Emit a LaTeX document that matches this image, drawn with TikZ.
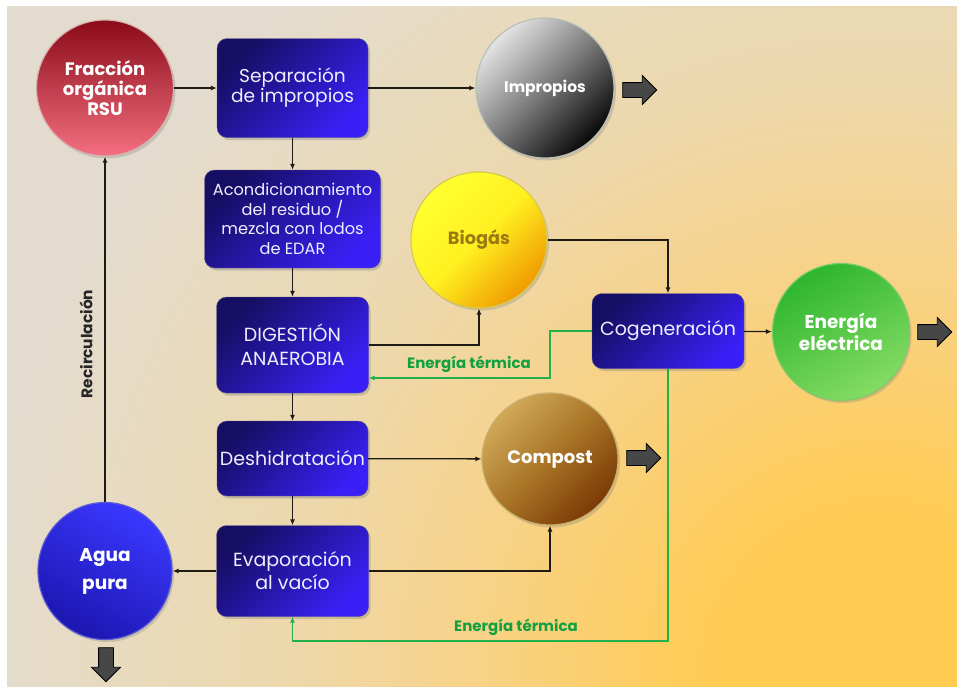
\documentclass[tikz,border=0pt]{standalone}
\usepackage{fontspec}
\setmainfont{Poppins}
\usetikzlibrary{shapes.geometric,shapes.arrows,arrows.meta,shadows}
\definecolor{bgbase}{HTML}{E3DCCE}
\definecolor{glowA}{HTML}{FFCB50}
\definecolor{glowB}{HTML}{F8D286}
\definecolor{glowC}{HTML}{EDD8AC}
\definecolor{glowD}{HTML}{E3DCCE}
\definecolor{boxD}{HTML}{160E62}
\definecolor{boxL}{HTML}{3A20F6}
\definecolor{boxTxt}{HTML}{EEEEFF}
\definecolor{conn}{HTML}{1E1A14}
\definecolor{grn}{HTML}{22B04A}
\definecolor{grnTxt}{HTML}{12A040}
\definecolor{fatA}{HTML}{474747}
\definecolor{fracD}{HTML}{8A0A18}
\definecolor{fracL}{HTML}{F47080}
\definecolor{fracR}{HTML}{D8B0B0}
\definecolor{impL}{HTML}{E4E4E4}
\definecolor{impM}{HTML}{7A7A7A}
\definecolor{impD}{HTML}{080808}
\definecolor{impR}{HTML}{B8C0B8}
\definecolor{bioA}{HTML}{FFFF30}
\definecolor{bioM}{HTML}{FFF020}
\definecolor{bioB}{HTML}{F09A00}
\definecolor{bioR}{HTML}{D8C850}
\definecolor{bioTxt}{HTML}{9C7A12}
\definecolor{eneA}{HTML}{2EB52E}
\definecolor{eneB}{HTML}{84DC64}
\definecolor{eneR}{HTML}{7CCB6A}
\definecolor{comA}{HTML}{D0A858}
\definecolor{comM}{HTML}{A87426}
\definecolor{comB}{HTML}{7A3A05}
\definecolor{comR}{HTML}{C8B070}
\definecolor{aguA}{HTML}{3A38FF}
\definecolor{aguB}{HTML}{1C16B0}
\definecolor{aguR}{HTML}{5A5AD8}
\pgfdeclareradialshading{bgglow}{\pgfpoint{0bp}{0bp}}{color(0bp)=(glowA); color(4.2bp)=(glowA); color(11.1bp)=(glowB); color(16.7bp)=(glowC); color(25bp)=(glowD); color(50bp)=(glowD)}
\begin{document}
\begin{tikzpicture}[x=1pt,y=-1pt,
  procbox/.style={rectangle, rounded corners=10pt, draw=boxD!70!white, line width=0.4pt,
    top color=boxD, bottom color=boxL, shading angle=45,
    text=boxTxt, align=center, inner sep=0pt,
    font=\fontsize{19}{20}\selectfont,
    drop shadow={opacity=0.35, shadow xshift=2pt, shadow yshift=-2.5pt}},
  blob/.style={ellipse, inner sep=0pt, align=center, text=white,
    font=\bfseries\fontsize{18}{20}\selectfont, line width=1.2pt,
    drop shadow={opacity=0.3, shadow xshift=2pt, shadow yshift=-2.5pt}},
  flow/.style={draw=conn, line width=1.3pt, -{Latex[length=6pt,width=5pt]}},
  heat/.style={draw=grn, line width=1.3pt, -{Latex[length=6pt,width=5pt]}},
  heatlbl/.style={text=grnTxt, font=\bfseries\fontsize{15}{17}\selectfont, inner sep=0pt},
  fat/.style={single arrow, draw=black, line width=0.8pt, fill=fatA, minimum width=28pt,
    minimum height=34pt, single arrow head extend=7pt, inner xsep=0pt, inner ysep=7pt},
]
% background
\useasboundingbox (0,0) rectangle (957,686);
\fill[white] (0,0) rectangle (957,686);
\fill[bgbase] (7,6) rectangle (957,686);
\begin{scope}
  \clip (7,6) rectangle (957,686);
  \shade[shading=bgglow] (880,680) circle (900pt);
\end{scope}

% process boxes
\node[procbox, minimum width=151pt, minimum height=99pt, font=\fontsize{18.6}{20}\selectfont] (sep) at (292.5,88) {Separación\\de impropios};
\node[procbox, minimum width=176pt, minimum height=98pt, font=\fontsize{16.2}{19.5}\selectfont] (acond) at (292.5,219) {Acondicionamiento\\del residuo /\\mezcla con lodos\\de EDAR};
\node[procbox, minimum width=152pt, minimum height=96pt, font=\fontsize{19}{24}\selectfont] (dig) at (292.5,345) {DIGESTIÓN\\ANAEROBIA};
\node[procbox, minimum width=151pt, minimum height=75pt] (desh) at (292.5,458.5) {Deshidratación};
\node[procbox, minimum width=152pt, minimum height=91pt, font=\fontsize{19}{23}\selectfont] (evap) at (292.5,571) {Evaporación\\al vacío};
\node[procbox, minimum width=152pt, minimum height=75pt] (cogen) at (668,331) {Cogeneración};

% circles
\node[blob, top color=fracD, bottom color=fracL, draw=fracR, minimum width=137pt, minimum height=136pt] (frac) at (105,88) {Fracción\\orgánica\\RSU};
\node[blob, top color=impL, bottom color=impD, middle color=impM, shading angle=45, draw=impR, minimum width=138pt, minimum height=140pt, font=\bfseries\fontsize{15.5}{18}\selectfont] (impr) at (545,88) {Impropios};
\node[blob, top color=bioA, bottom color=bioB, middle color=bioM, shading angle=45, draw=bioR, text=bioTxt, minimum width=136pt, minimum height=136pt, font=\bfseries\fontsize{17.7}{20}\selectfont] (biog) at (479,240) {Biogás};
\node[blob, top color=eneA, bottom color=eneB, shading angle=30, draw=eneR, minimum width=137pt, minimum height=137pt, font=\bfseries\fontsize{18.5}{22}\selectfont] (energ) at (841,332) {Energía\\eléctrica};
\node[blob, top color=comA, bottom color=comB, middle color=comM, shading angle=45, draw=comR, minimum width=136pt, minimum height=132pt] (comp) at (550,459) {Compost};
\node[blob, top color=aguA, bottom color=aguB, shading angle=-30, draw=aguR, minimum width=134pt, minimum height=137pt, font=\bfseries\fontsize{18.5}{28}\selectfont] (agua) at (105,571) {Agua\\pura};

% fat output arrows
\node[fat] (out1) at (636,90) {};
\node[fat] (out2) at (931,332) {};
\node[fat] (out3) at (640,458) {};
\node[fat, rotate=-90] (out4) at (106,661) {};

% connectors
\draw[flow] (frac) -- (sep);
\draw[flow] (sep) -- (impr);
\draw[flow] (sep) -- (acond);
\draw[flow] (acond) -- (dig);
\draw[flow] (dig) -- (desh);
\draw[flow] (desh) -- (evap);
\draw[flow] (dig.east) -| (biog.south);
\draw[flow] (biog.east) -| (cogen.north);
\draw[flow] (cogen) -- (energ);
\draw[flow] (desh) -- (comp);
\draw[flow] (evap.east) -| (comp.south);
\draw[flow] (evap) -- (agua);
\draw[flow] (agua) -- (frac);
\node[rotate=90, font=\bfseries\fontsize{15.4}{17}\selectfont, text=black!85, inner sep=0pt] (recirc) at (86,344) {Recirculación};

% thermal energy
\coordinate (gk1) at (550,378);
\draw[heat] (cogen.west) -| (gk1) -- (gk1 -| dig.east);
\coordinate (gk2) at (292.5,641);
\draw[heat] (cogen.south) |- (gk2) -- (evap.south);
\node[heatlbl] (et1) at (469,364) {Energía térmica};
\node[heatlbl] (et2) at (516,627) {Energía térmica};
\end{tikzpicture}
\end{document}
